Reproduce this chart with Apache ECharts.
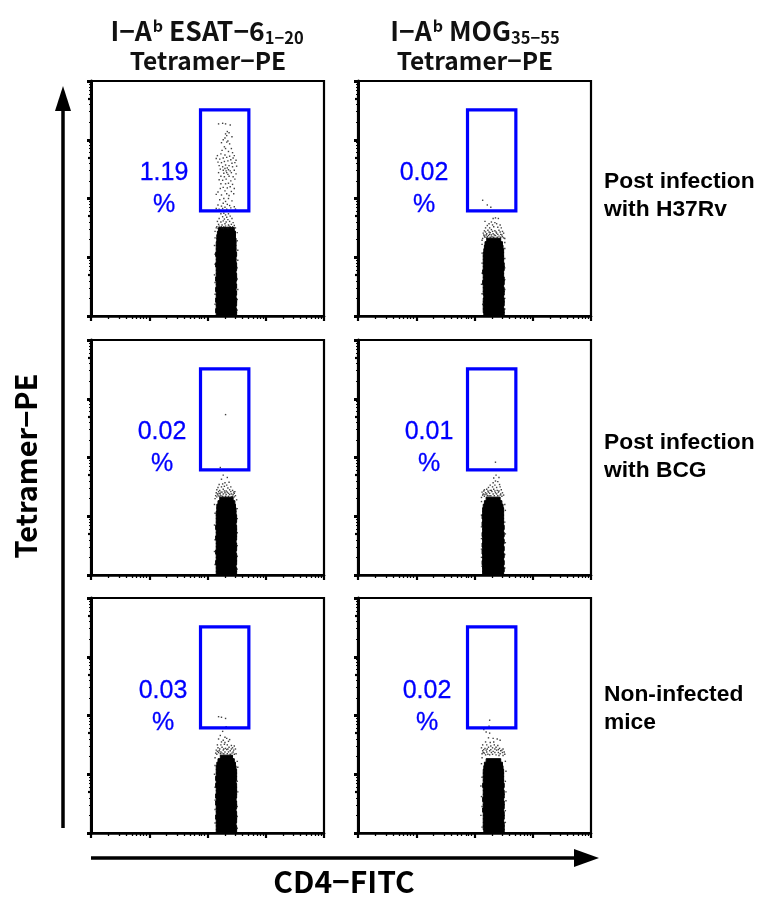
<!DOCTYPE html>
<html><head><meta charset="utf-8">
<style>html,body{margin:0;padding:0;background:#fff}#c{width:769px;height:897px}</style>
<script src="https://cdn.jsdelivr.net/npm/echarts@6/dist/echarts.min.js"></script>
</head><body><div id="c"></div>
<script>
// All values are in log10 fluorescence decades (0 to 4).
const rowLabels = ['Post infection\nwith H37Rv', 'Post infection\nwith BCG', 'Non-infected\nmice'];
const percents = ['1.19', '0.02', '0.02', '0.01', '0.03', '0.02'];
const yMinorTicks = [0.7, 1.7, 2.7, 3.7];
const fineTicks = [0.3,0.48,0.6,0.7,0.78,0.85,0.9,0.95,1.3,1.48,1.6,1.7,1.78,1.85,1.9,1.95,2.3,2.48,2.6,2.7,2.78,2.85,2.9,2.95,3.3,3.48,3.6,3.7,3.78,3.85,3.9,3.95];
const gate = [1.88, 2.71, 1.79, 3.51];
const coreLevels = [0,.06,.12,.18,.24,.3,.36,.42,.48,.54,.6,.66,.72,.78,.84,.9,.96,1.02,1.08,1.14,1.2,1.26,1.32,1.38,1.44,1.5];

const coreA = [[2.15,2.5],[2.14,2.5],[2.15,2.49],[2.15,2.5],[2.14,2.5],[2.15,2.49],[2.15,2.5],[2.14,2.49],[2.15,2.5],[2.15,2.49],[2.14,2.5],[2.15,2.5],[2.15,2.49],[2.15,2.5],[2.14,2.5],[2.15,2.49],[2.15,2.49],[2.14,2.5],[2.15,2.49],[2.15,2.49],[2.15,2.49],[2.16,2.49],[2.16,2.48],[2.17,2.48],[2.19,2.46]];
const coreB = [[2.16,2.51],[2.15,2.51],[2.15,2.5],[2.15,2.51],[2.15,2.51],[2.16,2.5],[2.15,2.51],[2.15,2.51],[2.15,2.5],[2.14,2.51],[2.15,2.51],[2.15,2.5],[2.14,2.5],[2.15,2.51],[2.15,2.51],[2.15,2.5],[2.15,2.5],[2.15,2.5],[2.16,2.5],[2.17,2.49],[2.18,2.48],[2.21,2.45]];
const coreC = [[2.15,2.5],[2.15,2.5],[2.15,2.49],[2.14,2.5],[2.15,2.5],[2.15,2.5],[2.14,2.49],[2.15,2.5],[2.15,2.5],[2.15,2.49],[2.14,2.5],[2.15,2.5],[2.15,2.5],[2.14,2.5],[2.15,2.49],[2.15,2.5],[2.15,2.5],[2.15,2.49],[2.16,2.49],[2.16,2.48],[2.18,2.47],[2.21,2.44]];
const coreD = [[2.14,2.5],[2.14,2.51],[2.14,2.5],[2.13,2.51],[2.14,2.5],[2.14,2.51],[2.13,2.5],[2.14,2.51],[2.13,2.5],[2.14,2.51],[2.14,2.5],[2.13,2.51],[2.14,2.5],[2.14,2.51],[2.13,2.5],[2.14,2.5],[2.13,2.5],[2.14,2.5],[2.14,2.5],[2.15,2.49],[2.17,2.47],[2.2,2.44]];
const coreE = [[2.15,2.5],[2.15,2.5],[2.15,2.49],[2.15,2.5],[2.14,2.5],[2.15,2.5],[2.15,2.49],[2.15,2.5],[2.14,2.5],[2.15,2.49],[2.14,2.5],[2.15,2.5],[2.15,2.5],[2.14,2.5],[2.15,2.49],[2.14,2.5],[2.15,2.5],[2.15,2.5],[2.15,2.49],[2.16,2.48],[2.18,2.46],[2.22,2.43]];
const coreF = [[2.16,2.51],[2.15,2.51],[2.15,2.51],[2.15,2.5],[2.15,2.51],[2.15,2.51],[2.14,2.5],[2.15,2.51],[2.15,2.51],[2.14,2.5],[2.15,2.51],[2.15,2.51],[2.15,2.5],[2.14,2.51],[2.15,2.5],[2.15,2.5],[2.15,2.5],[2.15,2.5],[2.16,2.49],[2.17,2.48],[2.2,2.45]];

const dotsA = [[2.19,3.27],[2.26,3.28],[2.31,3.27],[2.39,3.25],[2.34,3.14],[2.31,3.1],[2.37,3.12],[2.33,3.07],[2.3,3.03],[2.27,3.0],[2.42,3.05],[2.35,2.98],[2.24,2.95],[2.33,2.96],[2.38,2.93],[2.29,2.88],[2.41,2.85],[2.31,2.85],[2.25,2.82],[2.36,2.8],[2.43,2.78],[2.17,2.73],[2.23,2.76],[2.3,2.74],[2.38,2.72],[2.46,2.73],[2.15,2.68],[2.21,2.67],[2.27,2.69],[2.33,2.7],[2.4,2.66],[2.44,2.69],[2.49,2.65],[2.18,2.62],[2.24,2.61],[2.29,2.63],[2.35,2.64],[2.42,2.6],[2.47,2.61],[2.2,2.56],[2.26,2.54],[2.31,2.57],[2.34,2.52],[2.37,2.56],[2.43,2.54],[2.5,2.55],[2.22,2.5],[2.27,2.48],[2.3,2.51],[2.32,2.47],[2.36,2.49],[2.39,2.47],[2.46,2.48],[2.19,2.44],[2.28,2.43],[2.33,2.44],[2.35,2.41],[2.41,2.44],[2.49,2.42],[2.23,2.38],[2.29,2.37],[2.37,2.38],[2.44,2.37],[2.2,2.32],[2.26,2.31],[2.32,2.33],[2.4,2.3],[2.47,2.33],[2.23,2.25],[2.31,2.25],[2.36,2.26],[2.43,2.24],[2.27,2.19],[2.22,2.17],[2.34,2.18],[2.39,2.2],[2.46,2.17],[2.18,2.11],[2.3,2.13],[2.41,2.12],[2.15,2.07],[2.24,2.06],[2.33,2.08],[2.37,2.05],[2.45,2.08],[2.28,2.0],[2.21,1.98],[2.36,2.0],[2.31,1.95],[2.42,1.96],[2.27,1.92],[2.34,1.9],[2.18,1.89],[2.24,1.87],[2.38,1.88],[2.46,1.86],[2.3,1.85],[2.15,1.83],[2.2,1.82],[2.26,1.83],[2.33,1.82],[2.4,1.84],[2.48,1.82],[2.23,1.74],[2.28,1.75],[2.31,1.72],[2.36,1.74],[2.26,1.69],[2.33,1.68],[2.39,1.7],[2.2,1.66],[2.29,1.65],[2.35,1.64],[2.42,1.66],[2.17,1.61],[2.23,1.6],[2.27,1.62],[2.32,1.6],[2.38,1.61],[2.44,1.59],[2.19,1.56],[2.25,1.55],[2.3,1.57],[2.36,1.55],[2.41,1.56],[2.46,1.54],[2.16,1.52],[2.22,1.51],[2.28,1.52],[2.34,1.51],[2.39,1.52],[2.48,1.5],[2.2,1.53],[2.24,1.52],[2.31,1.53],[2.37,1.53],[2.43,1.52],[2.15,1.5],[2.18,1.49],[2.24,1.5],[2.27,1.49],[2.32,1.5],[2.35,1.49],[2.41,1.5],[2.45,1.5],[2.13,1.44],[2.51,1.42],[2.13,1.33],[2.51,1.28],[2.12,1.2],[2.52,1.12],[2.13,1.05],[2.52,0.95],[2.13,0.88],[2.51,0.82],[2.12,0.7],[2.51,0.63],[2.13,0.57],[2.52,0.45],[2.13,0.37],[2.51,0.28],[2.13,0.2],[2.51,0.1]];
const dotsB = [[2.14,1.97],[2.22,1.89],[2.28,1.85],[2.18,1.61],[2.32,1.66],[2.36,1.67],[2.41,1.66],[2.29,1.6],[2.25,1.57],[2.35,1.59],[2.22,1.54],[2.31,1.55],[2.38,1.57],[2.44,1.55],[2.19,1.5],[2.26,1.5],[2.33,1.52],[2.4,1.51],[2.46,1.5],[2.17,1.45],[2.23,1.46],[2.29,1.47],[2.35,1.45],[2.42,1.46],[2.48,1.44],[2.15,1.41],[2.21,1.4],[2.27,1.42],[2.32,1.4],[2.38,1.41],[2.45,1.39],[2.5,1.41],[2.17,1.36],[2.24,1.37],[2.3,1.35],[2.36,1.37],[2.42,1.36],[2.48,1.35],[2.14,1.32],[2.21,1.33],[2.52,1.32],[2.19,1.43],[2.25,1.43],[2.31,1.44],[2.37,1.43],[2.44,1.43],[2.16,1.38],[2.2,1.38],[2.26,1.39],[2.29,1.38],[2.34,1.38],[2.4,1.39],[2.47,1.38],[2.18,1.34],[2.22,1.35],[2.27,1.34],[2.33,1.34],[2.39,1.34],[2.45,1.34],[2.5,1.33],[2.13,1.29],[2.52,1.25],[2.13,1.22],[2.52,1.15],[2.13,1.07],[2.52,0.98],[2.13,0.9],[2.52,0.82],[2.13,0.73],[2.52,0.62],[2.12,0.54],[2.52,0.45],[2.13,0.38],[2.52,0.3],[2.14,0.2],[2.52,0.12]];
const dotsC = [[2.31,2.73],[2.22,1.83],[2.27,1.7],[2.24,1.63],[2.34,1.66],[2.3,1.57],[2.2,1.54],[2.26,1.55],[2.33,1.53],[2.37,1.58],[2.18,1.49],[2.24,1.5],[2.29,1.51],[2.35,1.48],[2.4,1.5],[2.16,1.45],[2.21,1.44],[2.27,1.46],[2.32,1.43],[2.38,1.45],[2.43,1.44],[2.47,1.42],[2.15,1.4],[2.2,1.39],[2.25,1.41],[2.3,1.4],[2.36,1.39],[2.41,1.38],[2.46,1.39],[2.14,1.35],[2.18,1.36],[2.23,1.35],[2.43,1.34],[2.48,1.35],[2.19,1.42],[2.23,1.41],[2.29,1.43],[2.34,1.41],[2.4,1.42],[2.45,1.41],[2.17,1.38],[2.22,1.38],[2.27,1.38],[2.32,1.37],[2.38,1.37],[2.44,1.37],[2.16,1.33],[2.2,1.34],[2.26,1.34],[2.31,1.34],[2.36,1.34],[2.41,1.33],[2.46,1.33],[2.13,1.3],[2.5,1.28],[2.12,1.2],[2.51,1.13],[2.13,1.05],[2.51,0.96],[2.12,0.85],[2.51,0.72],[2.13,0.6],[2.51,0.5],[2.12,0.4],[2.51,0.32],[2.13,0.18],[2.51,0.1]];
const dotsD = [[2.36,1.92],[2.37,1.7],[2.33,1.65],[2.42,1.66],[2.36,1.6],[2.32,1.57],[2.4,1.59],[2.27,1.53],[2.35,1.53],[2.43,1.54],[2.24,1.49],[2.31,1.5],[2.38,1.49],[2.44,1.5],[2.17,1.45],[2.21,1.46],[2.27,1.44],[2.33,1.46],[2.39,1.44],[2.46,1.45],[2.13,1.41],[2.19,1.4],[2.24,1.41],[2.3,1.42],[2.36,1.4],[2.41,1.41],[2.48,1.4],[2.14,1.36],[2.18,1.37],[2.22,1.35],[2.44,1.36],[2.5,1.36],[2.16,1.43],[2.23,1.43],[2.29,1.44],[2.35,1.43],[2.42,1.43],[2.15,1.38],[2.21,1.38],[2.26,1.39],[2.32,1.38],[2.38,1.38],[2.45,1.38],[2.17,1.34],[2.25,1.35],[2.28,1.35],[2.34,1.35],[2.4,1.35],[2.47,1.34],[2.12,1.32],[2.12,1.25],[2.52,1.2],[2.53,1.1],[2.12,1.02],[2.12,0.82],[2.52,0.9],[2.53,0.7],[2.12,0.62],[2.53,0.55],[2.12,0.44],[2.52,0.35],[2.12,0.3],[2.13,0.15],[2.52,0.12]];
const dotsE = [[2.19,1.98],[2.24,1.97],[2.31,1.95],[2.32,1.81],[2.26,1.73],[2.22,1.66],[2.3,1.63],[2.27,1.58],[2.19,1.6],[2.33,1.61],[2.38,1.59],[2.24,1.55],[2.3,1.54],[2.36,1.56],[2.17,1.5],[2.23,1.5],[2.29,1.51],[2.34,1.5],[2.41,1.49],[2.46,1.48],[2.18,1.45],[2.25,1.46],[2.31,1.44],[2.37,1.46],[2.43,1.45],[2.48,1.43],[2.15,1.41],[2.2,1.4],[2.27,1.41],[2.33,1.42],[2.39,1.4],[2.45,1.41],[2.14,1.36],[2.19,1.37],[2.25,1.36],[2.42,1.36],[2.49,1.35],[2.21,1.43],[2.28,1.43],[2.35,1.43],[2.41,1.43],[2.17,1.39],[2.23,1.38],[2.3,1.38],[2.36,1.38],[2.44,1.38],[2.16,1.34],[2.22,1.35],[2.28,1.35],[2.34,1.35],[2.39,1.34],[2.46,1.34],[2.13,1.28],[2.51,1.22],[2.13,1.15],[2.52,1.12],[2.12,1.0],[2.51,0.88],[2.13,0.78],[2.52,0.7],[2.13,0.56],[2.51,0.45],[2.13,0.4],[2.51,0.28],[2.13,0.17],[2.51,0.08]];
const dotsF = [[2.26,1.92],[2.25,1.82],[2.16,1.76],[2.2,1.72],[2.26,1.7],[2.24,1.62],[2.32,1.61],[2.39,1.6],[2.44,1.58],[2.19,1.55],[2.27,1.54],[2.33,1.55],[2.14,1.5],[2.21,1.5],[2.28,1.48],[2.34,1.5],[2.4,1.49],[2.12,1.45],[2.18,1.44],[2.24,1.46],[2.31,1.45],[2.37,1.46],[2.43,1.44],[2.49,1.43],[2.14,1.4],[2.2,1.41],[2.26,1.4],[2.32,1.39],[2.38,1.41],[2.45,1.4],[2.51,1.38],[2.13,1.35],[2.17,1.36],[2.23,1.34],[2.44,1.35],[2.52,1.34],[2.16,1.42],[2.22,1.43],[2.28,1.42],[2.35,1.43],[2.41,1.42],[2.47,1.41],[2.15,1.37],[2.21,1.38],[2.29,1.37],[2.35,1.37],[2.41,1.37],[2.48,1.37],[2.19,1.33],[2.26,1.33],[2.31,1.34],[2.37,1.33],[2.42,1.32],[2.49,1.32],[2.13,1.28],[2.53,1.22],[2.12,1.18],[2.54,1.05],[2.13,0.95],[2.53,0.88],[2.11,0.8],[2.54,0.7],[2.12,0.62],[2.54,0.55],[2.13,0.45],[2.53,0.38],[2.11,0.3],[2.53,0.18],[2.13,0.1]];

const cores = [coreA, coreB, coreC, coreD, coreE, coreF];
const dots = [dotsA, dotsB, dotsC, dotsD, dotsE, dotsF];
const gridLefts = [91, 358];
const gridTops = [81, 340, 598];
const labelPos = [[164,173],[424,173],[162,432],[429,432],[163,691],[427,691]];

const grid = [], xAxis = [], yAxis = [], series = [];
const blank = {show:false};
function axes(i) {
  const base = {gridIndex:i, type:'value', min:0, max:4, interval:1, splitLine:blank, axisLabel:blank};
  xAxis.push({...base, position:'bottom', axisLine:{onZero:false,lineStyle:{color:'#000',width:2.5}},
    axisTick:{length:5,lineStyle:{color:'#000',width:2.2}}});
  xAxis.push({...base, position:'bottom', axisLine:blank,
    axisTick:{length:3,customValues:fineTicks,lineStyle:{color:'#000',width:1.3}}});
  yAxis.push({...base, position:'left', axisLine:{onZero:false,lineStyle:{color:'#000',width:3}},
    axisTick:{length:4,lineStyle:{color:'#000',width:3}}});
  yAxis.push({...base, position:'left', axisLine:blank,
    axisTick:{length:3,customValues:yMinorTicks,lineStyle:{color:'#000',width:2.2}}});
  yAxis.push({...base, position:'left', axisLine:blank,
    axisTick:{length:2,customValues:fineTicks,lineStyle:{color:'#000',width:1}}});
}
for (let i = 0; i < 6; i++) {
  grid.push({left:gridLefts[i%2], top:gridTops[Math.floor(i/2)], width:233, height:235,
    show:true, borderColor:'#000', borderWidth:2.2, backgroundColor:'#fff'});
  axes(i);
  const ax = {xAxisIndex:2*i, yAxisIndex:3*i};
  series.push({...ax, type:'custom', silent:true, clip:false, z:2,
    data:cores[i].map((r,k)=>[r[0],r[1],coreLevels[k],coreLevels[k+1]]),
    encode:{x:[0,1],y:[2,3]},
    renderItem:(p,api)=>{
      const a=api.coord([api.value(0),api.value(2)]), b=api.coord([api.value(1),api.value(3)]);
      return {type:'rect',shape:{x:a[0],y:b[1]-0.3,width:b[0]-a[0],height:a[1]-b[1]+0.6},
        style:{fill:'#000',stroke:'#000',lineWidth:1}};
    }});
  series.push({...ax, type:'scatter', silent:true, symbol:'rect', symbolSize:1.4, z:3,
    itemStyle:{color:'#111'}, data:dots[i]});
  series.push({...ax, type:'custom', silent:true, clip:false, z:4, data:[gate],
    encode:{x:[0,1],y:[2,3]},
    renderItem:(p,api)=>{
      const a=api.coord([api.value(0),api.value(2)]), b=api.coord([api.value(1),api.value(3)]);
      return {type:'rect',shape:{x:a[0],y:b[1],width:b[0]-a[0],height:a[1]-b[1]},
        style:{fill:'none',stroke:'#0000ff',lineWidth:3.2}};
    }});
}

const cjk = '"Noto Sans CJK JP"';
const sans = '"Liberation Sans"';
const titleRich = {
  t:{font:`700 26.5px ${cjk}`,fill:'#111'},
  m:{font:`700 24.5px ${cjk}`,fill:'#111'},
  sup:{font:`700 16px ${cjk}`,fill:'#111',padding:[0,0,11,1]},
  sub:{font:`700 16.5px ${cjk}`,fill:'#111',padding:[13,0,0,0]}
};
const graphic = [];
function headline(x, y, text) {
  graphic.push({type:'text',x,y,z:10,style:{text,rich:titleRich,align:'center',verticalAlign:'middle'}});
}
headline(207, 31, '{t|I−A}{sup|b}{t| ESAT−6}{sub|1−20}');
headline(208, 61, '{m|Tetramer−PE}');
headline(475, 31, '{t|I−A}{sup|b}{t| MOG}{sub|35−55}');
headline(475, 61, '{m|Tetramer−PE}');
percents.forEach((t,i)=>{
  const [x,y]=labelPos[i];
  graphic.push({type:'text',x,y,z:10,style:{text:t,font:`25px ${sans}`,fill:'#0000ff',stroke:'#0000ff',lineWidth:0.3,align:'center',verticalAlign:'middle'}});
  graphic.push({type:'text',x,y:y+32,z:10,style:{text:'%',font:`25px ${sans}`,fill:'#0000ff',stroke:'#0000ff',lineWidth:0.3,align:'center',verticalAlign:'middle'}});
});
[[604,196],[604,457],[604,709]].forEach((p,i)=>{
  graphic.push({type:'text',x:p[0],y:p[1],z:10,style:{text:rowLabels[i],font:`700 22.8px ${sans}`,lineHeight:28,fill:'#000',align:'left',verticalAlign:'middle'}});
});
graphic.push({type:'text',x:26,y:466,rotation:Math.PI/2,z:10,style:{text:'Tetramer−PE',font:`700 29px ${cjk}`,fill:'#000',align:'center',verticalAlign:'middle'}});
graphic.push({type:'text',x:344,y:882,z:10,style:{text:'CD4−FITC',font:`700 30px ${cjk}`,fill:'#000',align:'center',verticalAlign:'middle'}});
graphic.push({type:'line',z:10,shape:{x1:63,y1:828,x2:63,y2:105},style:{stroke:'#000',lineWidth:3.5}});
graphic.push({type:'polygon',z:10,shape:{points:[[63,86],[55,111],[71,111]]},style:{fill:'#000'}});
graphic.push({type:'line',z:10,shape:{x1:91,y1:858,x2:580,y2:858},style:{stroke:'#000',lineWidth:3.5}});
graphic.push({type:'polygon',z:10,shape:{points:[[599,858],[574,849],[574,867]]},style:{fill:'#000'}});

const chart = echarts.init(document.getElementById('c'), null, {renderer:'canvas'});
chart.setOption({animation:false, backgroundColor:'#fff', grid, xAxis, yAxis, series, graphic});
</script></body></html>
